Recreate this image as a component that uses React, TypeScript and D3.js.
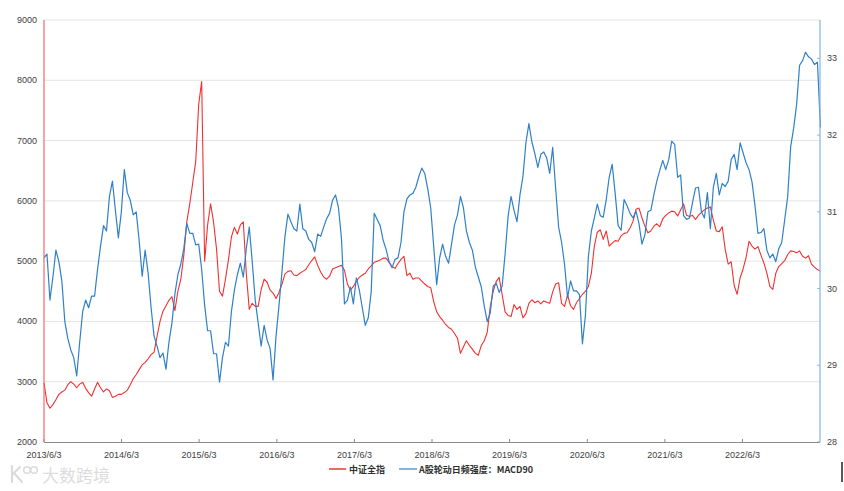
import React from 'react';
import * as d3 from 'd3';

const xTickLabels = ['2013/6/3', '2014/6/3', '2015/6/3', '2016/6/3', '2017/6/3', '2018/6/3', '2019/6/3', '2020/6/3', '2021/6/3', '2022/6/3'];
const leftTicks = [2000, 3000, 4000, 5000, 6000, 7000, 8000, 9000];
const rightTicks = [28, 29, 30, 31, 32, 33];
const seriesStart = '2013/6/3';
const stepDays = 14;
const legendLabels = ['中证全指', 'A股轮动日频强度：MACD90'];

// 中证全指 (left axis), biweekly
const csiAll = [
  2980, 2650, 2560, 2620, 2700, 2790, 2830, 2860, 2950, 3000,
  2960, 2900, 2960, 2990, 2890, 2820, 2760, 2880, 2990, 2900,
  2830, 2880, 2850, 2740, 2760, 2790, 2790, 2820, 2860, 2950,
  3050, 3120, 3200, 3280, 3320, 3380, 3450, 3490, 3750, 4000,
  4170, 4260, 4350, 4410, 4180, 4500, 4700, 5100, 5650, 5950,
  6300, 6650, 7600, 7980, 5000, 5600, 5950, 5650, 5200, 4500,
  4420, 4700, 5020, 5400, 5560, 5450, 5600, 5650, 4800, 4200,
  4300, 4250, 4250, 4530, 4700, 4650, 4520, 4470, 4380, 4480,
  4620, 4790, 4830, 4840, 4770, 4760, 4800, 4830, 4860, 4940,
  5010, 5070, 4930, 4820, 4740, 4700, 4750, 4870, 4890, 4910,
  4930, 4850, 4620, 4520, 4580, 4670, 4730, 4770, 4800, 4870,
  4920, 4980, 5000, 5020, 5050, 5050, 4980, 4910, 4880, 4960,
  5030, 5080, 4760, 4800, 4700, 4720, 4720, 4670, 4620, 4580,
  4560, 4330, 4160, 4080, 4020, 3950, 3900, 3870, 3800, 3720,
  3470, 3580, 3680, 3600, 3540, 3470, 3440, 3600, 3680, 3820,
  4240, 4500, 4660, 4730, 4450, 4160, 4100, 4080, 4280, 4200,
  4250, 4060, 4130, 4300, 4360, 4310, 4340, 4290, 4340, 4320,
  4300, 4490, 4620, 4640, 4300, 4250, 4440, 4260, 4200, 4310,
  4380, 4450, 4500, 4580, 4800, 5250, 5480, 5520, 5360, 5500,
  5250, 5300, 5340, 5330, 5420, 5460, 5470, 5550, 5660, 5860,
  5880, 5720, 5580, 5470, 5500, 5580, 5620, 5570, 5700, 5760,
  5800, 5830, 5820, 5750, 5850, 5950, 5760, 5740, 5760, 5690,
  5760, 5810, 5850, 5880, 5900, 5680, 5500, 5490, 5570, 5190,
  4950, 4990, 4600, 4450, 4720, 4870, 5060, 5330, 5250, 5200,
  5240, 5100, 4970, 4800, 4580, 4530, 4800, 4910, 4960, 5010,
  5110, 5170, 5160, 5140, 5170, 5080, 5050, 5090, 4950, 4900,
  4860, 4830,
];

// A股轮动日频强度：MACD90 (right axis), biweekly
const rotationMacd90 = [
  30.40, 30.45, 29.85, 30.15, 30.50, 30.35, 30.10, 29.57, 29.35, 29.20,
  29.10, 28.86, 29.30, 29.70, 29.85, 29.75, 29.90, 29.90, 30.25, 30.55,
  30.82, 30.75, 31.20, 31.40, 31.02, 30.66, 31.00, 31.55, 31.25, 31.15,
  30.96, 31.00, 30.62, 30.16, 30.50, 30.20, 29.75, 29.38, 29.25, 29.10,
  29.16, 28.95, 29.30, 29.55, 29.93, 30.18, 30.32, 30.52, 30.85, 30.72,
  30.72, 30.57, 30.58, 30.25, 29.78, 29.45, 29.45, 29.15, 29.15, 28.78,
  29.10, 29.30, 29.25, 29.70, 29.98, 30.18, 30.33, 30.15, 30.52, 30.80,
  30.35, 29.85, 29.55, 29.25, 29.52, 29.33, 29.22, 28.81, 29.38, 29.78,
  30.22, 30.68, 30.97, 30.87, 30.78, 30.75, 31.10, 30.78, 30.75, 30.64,
  30.60, 30.48, 30.71, 30.68, 30.80, 30.91, 30.98, 31.15, 31.22, 31.05,
  30.65, 29.80, 29.85, 30.02, 29.80, 30.14, 29.98, 29.75, 29.52, 29.62,
  29.96, 30.98, 30.90, 30.82, 30.63, 30.51, 30.35, 30.27, 30.38, 30.40,
  30.60, 31.00, 31.17, 31.22, 31.24, 31.32, 31.46, 31.57, 31.50, 31.30,
  31.05, 30.55, 30.05, 30.40, 30.58, 30.42, 30.33, 30.58, 30.83, 30.96,
  31.20, 31.05, 30.75, 30.60, 30.50, 30.28, 30.15, 30.02, 29.77, 29.57,
  29.68, 30.03, 30.07, 29.95, 30.03, 30.45, 30.94, 31.20, 31.02, 30.87,
  31.22, 31.46, 31.90, 32.15, 31.91, 31.76, 31.58, 31.75, 31.78, 31.70,
  31.50, 31.84, 31.30, 30.80, 30.60, 30.31, 29.88, 30.10, 29.97, 29.97,
  29.92, 29.28, 29.65, 30.42, 30.75, 30.92, 31.10, 30.95, 30.93, 31.16,
  31.45, 31.62, 31.24, 30.82, 30.76, 31.16, 31.08, 30.98, 30.92, 31.01,
  30.85, 30.58, 30.70, 31.00, 31.02, 31.22, 31.40, 31.54, 31.67, 31.55,
  31.68, 31.92, 31.88, 31.45, 31.48, 30.95, 30.90, 30.92, 31.12, 31.31,
  31.32, 31.00, 30.92, 31.25, 30.78, 31.32, 31.50, 31.22, 31.37, 31.33,
  31.40, 31.68, 31.75, 31.55, 31.90, 31.77, 31.64, 31.55, 31.39, 31.08,
  30.72, 30.73, 30.78, 30.50, 30.40, 30.45, 30.35, 30.52, 30.60, 30.90,
  31.20, 31.85, 32.09, 32.40, 32.91, 32.97, 33.08, 33.02, 32.99, 32.92,
  32.95, 32.10,
];

function parseDate(s: string): Date {
  const [y, m, d] = s.split('/').map(Number);
  return new Date(y, m - 1, d);
}

const FONT = '"Liberation Sans", Arial, "Noto Sans CJK SC", sans-serif';
const CJK = '"Noto Sans CJK SC", "Liberation Sans", sans-serif';

export default function App() {
  const W = 844;
  const H = 491;
  const L = 44, R = 820, T = 20, B = 442;
  const start = parseDate(seriesStart);
  const dates = csiAll.map((_, i) => d3.timeDay.offset(start, i * stepDays));
  const x = d3.scaleTime().domain([start, d3.timeYear.offset(start, 10)]).range([L, R]);
  const yL = d3.scaleLinear().domain([2000, 9000]).range([B, T]);
  const yR = d3.scaleLinear().domain([28, 33.5]).range([B, T]);

  const redLine = d3.line<number>().x((_, i) => x(dates[i])).y((v) => yL(v))(csiAll) || '';
  const blueLine = d3.line<number>().x((_, i) => x(dates[i])).y((v) => yR(v))(rotationMacd90) || '';
  const xTicks = xTickLabels.map(parseDate);

  return (
    <svg width={W} height={H} style={{ position: 'absolute', left: 0, top: 0, background: '#fff' }}>
      <rect x={0} y={0} width={W} height={H} fill="#fff" />
      {/* gridlines */}
      {leftTicks.filter((t) => t !== 2000).map((t) => (
        <line key={'g' + t} x1={L} x2={R} y1={yL(t)} y2={yL(t)} stroke="#e4e4e4" strokeWidth={1} />
      ))}
      {/* left tick labels */}
      {leftTicks.map((t) => (
        <text key={'l' + t} x={37} y={yL(t) + 3} textAnchor="end" fontSize={9} fontFamily={FONT} fill="#404040">{t}</text>
      ))}
      {/* right ticks & labels */}
      {rightTicks.map((t) => (
        <g key={'r' + t}>
          <line x1={R - 3} x2={R} y1={yR(t)} y2={yR(t)} stroke="#8bbbe6" strokeWidth={1} />
          <text x={827} y={yR(t) + 3} textAnchor="start" fontSize={9} fontFamily={FONT} fill="#404040">{t}</text>
        </g>
      ))}
      {/* x axis */}
      <line x1={L} x2={R} y1={B + 0.5} y2={B + 0.5} stroke="#8c8c8c" strokeWidth={1} />
      {xTicks.map((d, i) => (
        <g key={'x' + i}>
          <line x1={x(d)} x2={x(d)} y1={B - 3} y2={B} stroke="#8c8c8c" strokeWidth={1} />
          <text x={x(d)} y={458} textAnchor="middle" fontSize={9} fontFamily={FONT} fill="#404040">{xTickLabels[i]}</text>
        </g>
      ))}
      {/* series */}
      <path d={redLine} fill="none" stroke="#f23030" strokeWidth={1.1} strokeLinejoin="round" />
      <path d={blueLine} fill="none" stroke="#2f80c8" strokeWidth={1.2} strokeLinejoin="round" />
      {/* left & right axes */}
      <line x1={L} x2={L} y1={T} y2={B} stroke="#f26868" strokeWidth={1.2} />
      <line x1={R} x2={R} y1={T} y2={B} stroke="#80b4e2" strokeWidth={1.2} />
      {/* legend */}
      <line x1={329} x2={346} y1={469} y2={469} stroke="#f26868" strokeWidth={2} />
      <text x={349} y={472.5} fontSize={9} fontFamily={CJK} fill="#303030" fontWeight={700}>{legendLabels[0]}</text>
      <line x1={399} x2={417} y1={469} y2={469} stroke="#80b4e2" strokeWidth={2} />
      <text x={419} y={472.5} fontSize={9} fontFamily={CJK} fill="#303030" fontWeight={700}>{legendLabels[1]}</text>
      {/* watermark */}
      <g opacity={0.9}>
        <path d="M12 466 L12 482 M12 475 L20 467 M14 473 L22 482" stroke="#d8d8d8" strokeWidth={2.2} fill="none" strokeLinecap="round" />
        <circle cx={27} cy={470} r={3.3} fill="none" stroke="#d8d8d8" strokeWidth={1.6} />
        <circle cx={34} cy={470} r={3.3} fill="none" stroke="#d8d8d8" strokeWidth={1.6} />
        <text x={42} y={482} fontSize={17} fontFamily={CJK} fill="#d9d9d9">大数跨境</text>
      </g>
      <line x1={842} x2={842} y1={462} y2={482} stroke="#222" strokeWidth={1.5} />
    </svg>
  );
}
